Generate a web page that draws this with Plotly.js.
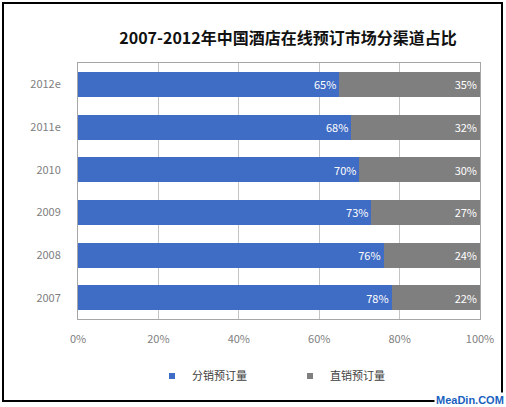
<!DOCTYPE html>
<html>
<head>
<meta charset="utf-8">
<script src="https://cdn.plot.ly/plotly-3.0.1.min.js"></script>
<style>
html,body{margin:0;padding:0;background:#fff;}
#chart{width:506px;height:407px;}
</style>
</head>
<body>
<div id="chart"></div>
<script>
var years = ['2007', '2008', '2009', '2010', '2011e', '2012e'];
var distribution = [78, 76, 73, 70, 68, 65];
var direct = [22, 24, 27, 30, 32, 35];
var seriesNames = ['分销预订量', '直销预订量'];
var xTicks = [0, 20, 40, 60, 80, 100];
var xTickText = ['0%', '20%', '40%', '60%', '80%', '100%'];
var titleText = '2007-2012年中国酒店在线预订市场分渠道占比';
var watermark = 'MeaDin.COM';

var blue = '#3F6CC4';
var gray = '#7F7F7F';
var cjk = '"Noto Sans CJK SC", "Open Sans", sans-serif';

function pct(arr) { return arr.map(function (v) { return v + '%'; }); }

var traces = [
  {
    type: 'bar', orientation: 'h', y: years, x: distribution, name: seriesNames[0],
    marker: {color: blue, line: {width: 0}},
    text: pct(distribution), textposition: 'inside', insidetextanchor: 'end',
    textfont: {color: '#ffffff', size: 11, family: cjk},
    showlegend: false, hoverinfo: 'x+y'
  },
  {
    type: 'bar', orientation: 'h', y: years, x: direct, name: seriesNames[1],
    marker: {color: gray, line: {width: 0}},
    text: pct(direct), textposition: 'inside', insidetextanchor: 'end',
    textfont: {color: '#ffffff', size: 11, family: cjk},
    showlegend: false, hoverinfo: 'x+y'
  },
  {
    type: 'scatter', mode: 'markers', x: [null], y: [null], name: seriesNames[0],
    marker: {symbol: 'square', size: 6, color: blue}, showlegend: true, hoverinfo: 'skip'
  },
  {
    type: 'scatter', mode: 'markers', x: [null], y: [null], name: seriesNames[1],
    marker: {symbol: 'square', size: 6, color: gray}, showlegend: true, hoverinfo: 'skip'
  }
];

var L = 78, R = 26, T = 63, B = 88, W = 506, H = 407;
var pw = W - L - R, ph = H - T - B;
function px(x) { return (x - L) / pw; }
function py(y) { return (H - B - y) / ph; }

var layout = {
  width: W, height: H,
  margin: {l: L, r: R, t: T, b: B, pad: 0},
  paper_bgcolor: '#ffffff', plot_bgcolor: '#ffffff',
  barmode: 'stack', bargap: 0.414,
  font: {family: cjk, color: '#7F7F7F', size: 11},
  title: {
    text: titleText,
    font: {family: cjk, size: 16, color: '#111111', weight: 'bold'},
    x: 288 / W, xanchor: 'center', xref: 'container',
    y: 1 - 38 / H, yanchor: 'middle', yref: 'container'
  },
  xaxis: {
    range: [0, 100], tickmode: 'array', tickvals: xTicks, ticktext: xTickText,
    showgrid: true, gridcolor: '#C4C4C4', gridwidth: 1,
    zeroline: false, showline: true, linecolor: '#A6A6A6', linewidth: 1, mirror: true,
    ticks: 'outside', ticklen: 10, tickcolor: 'rgba(0,0,0,0)',
    tickfont: {size: 11, color: '#808080', family: cjk},
    fixedrange: true
  },
  yaxis: {
    type: 'category', categoryorder: 'array', categoryarray: years,
    showgrid: false, zeroline: false,
    showline: true, linecolor: '#A6A6A6', linewidth: 1, mirror: true,
    ticks: 'outside', ticklen: 14, tickcolor: 'rgba(0,0,0,0)',
    tickfont: {size: 11, color: '#808080', family: cjk},
    fixedrange: true
  },
  legend: {
    orientation: 'h', traceorder: 'normal',
    x: px(152), xanchor: 'left', y: py(376), yanchor: 'middle',
    font: {size: 11, color: '#404040', family: cjk},
    entrywidth: 93, itemclick: false, itemdoubleclick: false,
    bgcolor: 'rgba(0,0,0,0)'
  },
  shapes: [
    {
      type: 'rect', xref: 'paper', yref: 'paper',
      x0: px(3), x1: px(502), y0: py(401), y1: py(3),
      line: {color: '#000000', width: 2}, fillcolor: 'rgba(0,0,0,0)', layer: 'above'
    }
  ],
  annotations: [
    {
      text: '<b>' + watermark + '</b>', xref: 'paper', yref: 'paper',
      x: px(506), xanchor: 'right', y: py(400), yanchor: 'middle',
      showarrow: false, bgcolor: '#ffffff', borderpad: 1,
      font: {family: '"Liberation Sans", Arial, sans-serif', size: 11, color: '#1A5FC0'}
    }
  ]
};

Plotly.newPlot('chart', traces, layout, {displayModeBar: false, staticPlot: true});
</script>
</body>
</html>
